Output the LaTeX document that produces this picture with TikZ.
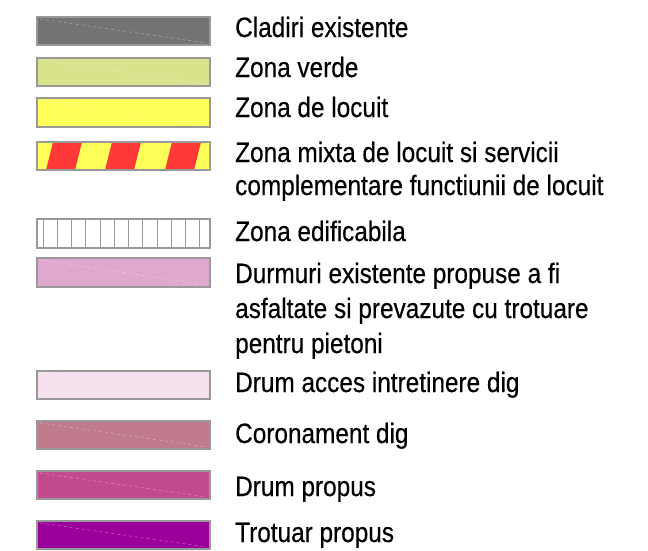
\documentclass[tikz,border=0pt]{standalone}
\usepackage{fontspec}
\setmainfont[FakeStretch=0.87,FakeBold=0.4]{Liberation Sans}
\begin{document}
\begin{tikzpicture}[x=1pt,y=-1pt,
  sw/.style={draw=black!40,line width=1.2pt},
  diag/.style={white,opacity=0.35,dash pattern=on 3pt off 3pt,line width=0.6pt},
  lab/.style={anchor=base west,font=\fontsize{28}{34}\selectfont,inner sep=0pt}]
\useasboundingbox (0,0) rectangle (648,550);
\definecolor{cgray}{HTML}{737373}
\definecolor{cgreen}{HTML}{D9E38C}
\definecolor{cyel}{HTML}{FFFF5A}
\definecolor{cred}{HTML}{FF3838}
\definecolor{cpink}{HTML}{DFA8CF}
\definecolor{clpink}{HTML}{F6E0EE}
\definecolor{cmauve}{HTML}{BF7B8C}
\definecolor{cmag}{HTML}{C24A8E}
\definecolor{cpur}{HTML}{9B009B}
% swatch helper
\newcommand{\swatch}[4]{% name, color, ytop, ybottom
  \fill[#2] (37,#3) rectangle (210,#4);
  \draw[diag] (40,#3+2) -- (207,#4-2);
  \draw[sw] (37,#3) rectangle (210,#4);
  \coordinate (#1) at (37,#3);}
\swatch{s1}{cgray}{17}{45}
\swatch{s2}{cgreen}{58}{86}
\swatch{s3}{cyel}{98}{127}
% mixed
\fill[cyel] (37,142) rectangle (210,170);
\begin{scope}
\clip (37,142) rectangle (210,170);
\foreach \a in {53,112,172} {
  \fill[cred] (\a,142) -- (\a+29,142) -- (\a+22,170) -- (\a-7,170) -- cycle;
}
\end{scope}
\draw[sw] (37,142) rectangle (210,170);
% edificabila
\fill[white] (37,219) rectangle (210,248);
\foreach \i in {0,...,11} {
  \draw[black!40,line width=1pt] (43+\i*14.25,219) -- (43+\i*14.25,248);
}
\draw[sw] (37,219) rectangle (210,248);
\swatch{s6}{cpink}{258}{287}
\swatch{s7}{clpink}{371}{399}
\swatch{s8}{cmauve}{421}{449}
\swatch{s9}{cmag}{471}{499}
\swatch{s10}{cpur}{521}{549}
% labels
\node[lab] (t1) at (235,37) {Cladiri existente};
\node[lab] (t2) at (235,77) {Zona verde};
\node[lab] (t3) at (235,117) {Zona de locuit};
\node[lab] (t4a) at (235,162) {Zona mixta de locuit si servicii};
\node[lab] (t4b) at (235,195) {complementare functiunii de locuit};
\node[lab] (t5) at (235,241) {Zona edificabila};
\node[lab] (t6a) at (235,283) {Durmuri existente propuse a fi};
\node[lab] (t6b) at (235,318) {asfaltate si prevazute cu trotuare};
\node[lab] (t6c) at (235,353) {pentru pietoni};
\node[lab] (t7) at (235,392) {Drum acces intretinere dig};
\node[lab] (t8) at (235,443) {Coronament dig};
\node[lab] (t9) at (235,496) {Drum propus};
\node[lab] (t10) at (235,542) {Trotuar propus};
\end{tikzpicture}
\end{document}
